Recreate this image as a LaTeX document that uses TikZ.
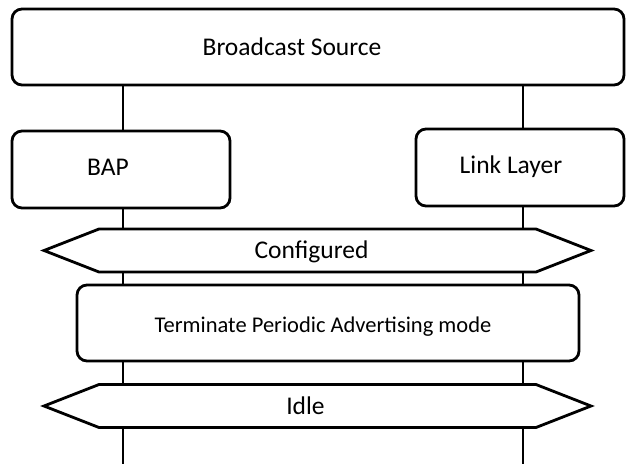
\documentclass[tikz,border=0pt]{standalone}
\usepackage{fontspec}
\setmainfont{Carlito}
\usetikzlibrary{shapes.symbols,calc}

\begin{document}
\begin{tikzpicture}[
  x=1pt, y=-1pt,
  every node/.style={font=\fontsize{25.5}{30}\selectfont, align=center},
  box/.style={draw, line width=2.8pt, rounded corners=10pt, inner sep=0pt},
  state/.style={draw, line width=2.8pt, signal, signal to=west and east,
    signal pointer angle=42.7, minimum width=547pt, minimum height=43pt, inner sep=0pt},
  lbl/.style={text height=20pt, text depth=4pt, inner sep=0pt},
  life/.style={line width=2.8pt}
]
\useasboundingbox (0,0) rectangle (626,464);
% boxes
\node[box, minimum width=612pt, minimum height=76pt] (src) at (318,47) {};
\node[box, minimum width=218pt, minimum height=77pt] (bap) at (121,169.5) {};
\node[box, minimum width=208pt, minimum height=77pt] (ll) at (520,167.5) {};
\node[state] (cfg) at (317.5,250.5) {};
\node[box, minimum width=502pt, minimum height=76pt] (term) at (328,323) {};
\node[state] (idle) at (317.5,406) {};
\coordinate (endl) at (123,464);
\coordinate (endr) at (523,464);
% labels
\node[lbl] at ($(src)+(-26,0)$) {Broadcast Source};
\node[lbl] at ($(bap)+(-13,-2)$) {BAP};
\node[lbl] at ($(ll)+(-9,-2)$) {Link Layer};
\node[lbl] at ($(cfg)+(-6,0)$) {Configured};
\node[lbl, text height=17.4pt, text depth=3pt, font=\fontsize{22.5}{27}\selectfont]
  at ($(term)+(-5,2)$) {Terminate Periodic Advertising mode};
\node[lbl] at ($(idle)+(-12,0)$) {Idle};
% lifelines
\draw[life] (src.south -| endl) -- (bap.north -| endl);
\draw[life] (src.south -| endr) -- (ll.north -| endr);
\draw[life] (bap.south -| endl) -- (cfg.north -| endl);
\draw[life] (ll.south -| endr) -- (cfg.north -| endr);
\draw[life] (cfg.south -| endl) -- (term.north -| endl);
\draw[life] (cfg.south -| endr) -- (term.north -| endr);
\draw[life] (term.south -| endl) -- (idle.north -| endl);
\draw[life] (term.south -| endr) -- (idle.north -| endr);
\draw[life] (idle.south -| endl) -- (endl);
\draw[life] (idle.south -| endr) -- (endr);
\end{tikzpicture}
\end{document}
